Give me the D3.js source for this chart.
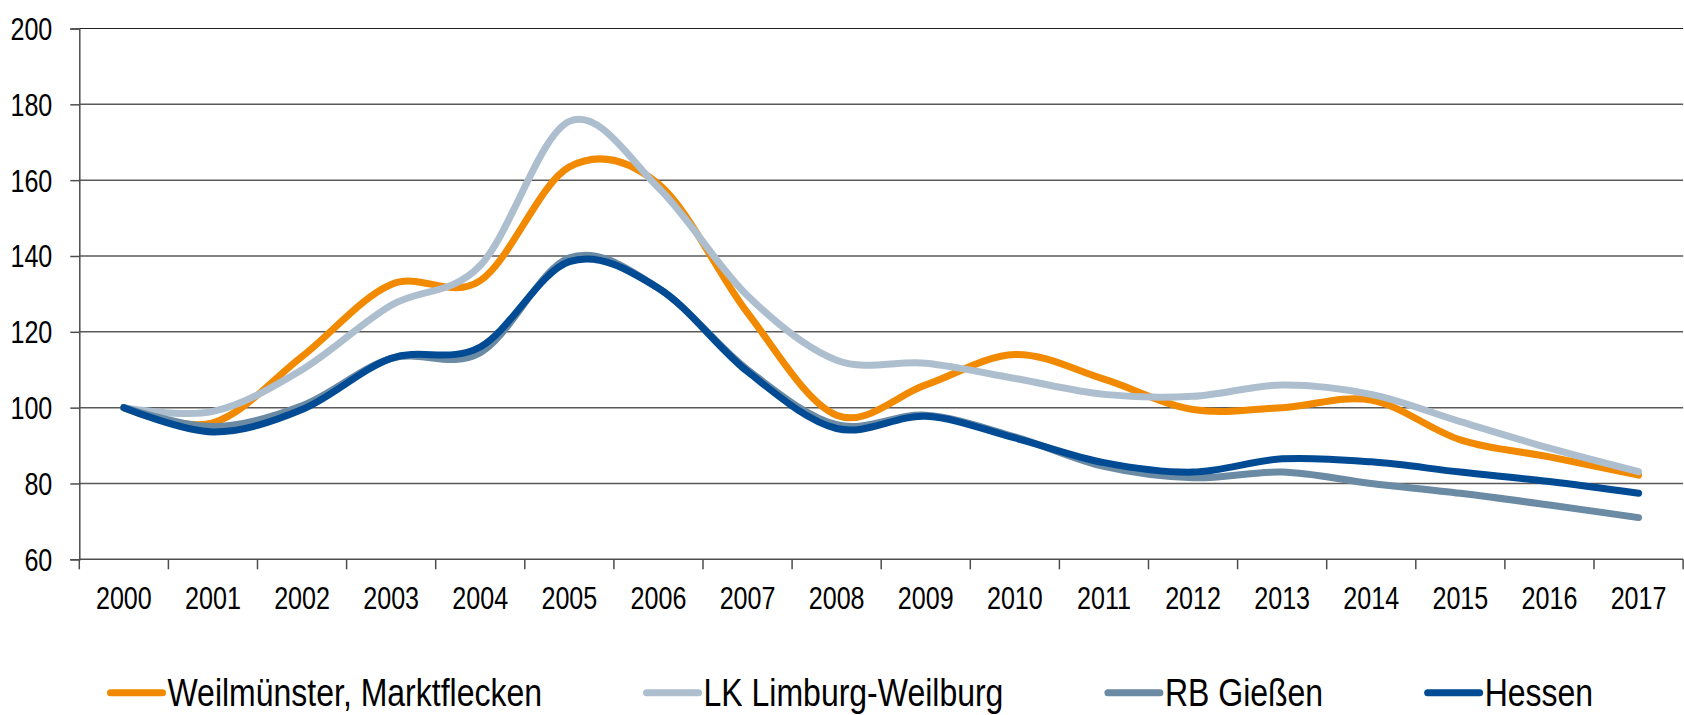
<!DOCTYPE html>
<html>
<head>
<meta charset="utf-8">
<script src="https://cdn.jsdelivr.net/npm/d3@7"></script>
<style>
  html, body { margin: 0; padding: 0; background: #fff; }
  svg { display: block; }
  text { font-family: "Liberation Sans", Arial, sans-serif; fill: #000; }
</style>
</head>
<body>
<svg id="chart" width="1684" height="715"></svg>
<script>
// Index values (2000 = 100)
const years = ["2000", "2001", "2002", "2003", "2004", "2005", "2006", "2007", "2008",
               "2009", "2010", "2011", "2012", "2013", "2014", "2015", "2016", "2017"];
const weilmuenster = [100, 96, 113.5, 132.5, 133.5, 163.5, 159, 125, 98, 106, 114, 107.5, 99.5, 100, 102, 91.5, 87, 82.2];
const limburgWeilburg = [100, 99, 110, 127, 137.5, 175.5, 158, 129.5, 112.5, 111.7, 107.7, 103.5, 103, 106, 103.5, 96.3, 89.3, 83.1];
const rbGiessen = [100, 95, 100.5, 113, 114.5, 139.5, 131.5, 110, 95.5, 98, 92.3, 84.5, 81.5, 83, 80, 77.4, 74.3, 71];
const hessen = [100, 93.6, 99.5, 113, 116, 138.5, 131.5, 109.5, 94.5, 97.7, 92, 85.5, 83, 86.5, 85.7, 83, 80.5, 77.4];
const yTicks = [60, 80, 100, 120, 140, 160, 180, 200];
const seriesNames = ["Weilmünster, Marktflecken", "LK Limburg-Weilburg", "RB Gießen", "Hessen"];
const seriesColors = ["#F18A00", "#ADBFCE", "#6B8AA4", "#004B93"];

const series = [weilmuenster, limburgWeilburg, rbGiessen, hessen].map((values, i) => ({
  name: seriesNames[i], color: seriesColors[i], values
}));

const svg = d3.select("#chart");
const plotLeft = 79.3, plotRight = 1683.1, plotTop = 28.5, plotBottom = 559.3;
const squeeze = 0.81; // narrow type

const x = d3.scaleBand().domain(years).range([plotLeft, plotRight]).paddingInner(0).paddingOuter(0);
const y = d3.scaleLinear().domain([60, 200]).range([plotBottom, plotTop]);
const cx = yr => x(yr) + x.bandwidth() / 2;

// horizontal gridlines
svg.append("g").selectAll("line").data(yTicks.filter(t => t > 60)).join("line")
  .attr("x1", plotLeft).attr("x2", plotRight)
  .attr("y1", d => y(d)).attr("y2", d => y(d))
  .attr("stroke", d => d === 200 ? "#222" : "#5a5a5a")
  .attr("stroke-width", d => d === 200 ? 1.2 : 1.5);

// y axis
const yAxis = svg.append("g").attr("transform", `translate(${plotLeft},0)`)
  .call(d3.axisLeft(y).tickValues(yTicks).tickSize(9).tickPadding(18).tickFormat(d3.format("d")));
yAxis.select(".domain").attr("stroke", "#4d4d4d").attr("stroke-width", 1.5);
yAxis.selectAll(".tick line").attr("stroke", "#4d4d4d").attr("stroke-width", 1.5);
yAxis.selectAll(".tick text").each(function () {
  const t = d3.select(this);
  const tx = +t.attr("x");
  t.attr("x", null).attr("dy", "0.35em")
   .attr("font-size", 31).attr("fill", "#000")
   .attr("transform", `translate(${tx},0) scale(${squeeze},1)`);
});
yAxis.attr("font-family", null).attr("font-size", null);

// x axis: baseline, category boundary ticks, labels
const xg = svg.append("g");
xg.append("line").attr("x1", plotLeft).attr("x2", plotRight).attr("y1", plotBottom).attr("y2", plotBottom)
  .attr("stroke", "#4d4d4d").attr("stroke-width", 1.5);
const bounds = years.map(yr => x(yr)).concat([x(years[years.length - 1]) + x.bandwidth()]);
xg.selectAll("line.tick").data(bounds).join("line").attr("class", "tick")
  .attr("x1", d => d).attr("x2", d => d).attr("y1", plotBottom).attr("y2", plotBottom + 10)
  .attr("stroke", "#4d4d4d").attr("stroke-width", 1.5);
xg.selectAll("text").data(years).join("text")
  .attr("transform", d => `translate(${cx(d)},609) scale(${squeeze},1)`)
  .attr("text-anchor", "middle").attr("font-size", 31).text(d => d);

// series lines
const line = d3.line().x((d, i) => cx(years[i])).y(d => y(d)).curve(d3.curveCatmullRom.alpha(0));
svg.append("g").selectAll("path").data(series).join("path")
  .attr("d", d => line(d.values))
  .attr("fill", "none").attr("stroke", d => d.color)
  .attr("stroke-width", 7).attr("stroke-linecap", "round").attr("stroke-linejoin", "round");

// legend
const legend = svg.append("g");
let lx = 110.5;
const ly = 692.7;
series.forEach(s => {
  legend.append("line").attr("x1", lx).attr("x2", lx + 52).attr("y1", ly).attr("y2", ly)
    .attr("stroke", s.color).attr("stroke-width", 7).attr("stroke-linecap", "round");
  const tx = lx + 57;
  const t = legend.append("text")
    .attr("transform", `translate(${tx},705.5) scale(${squeeze},1)`)
    .attr("font-size", 39.5).text(s.name);
  const w = t.node().getComputedTextLength() * squeeze;
  lx = tx + w + 104.5;
});
</script>
</body>
</html>
